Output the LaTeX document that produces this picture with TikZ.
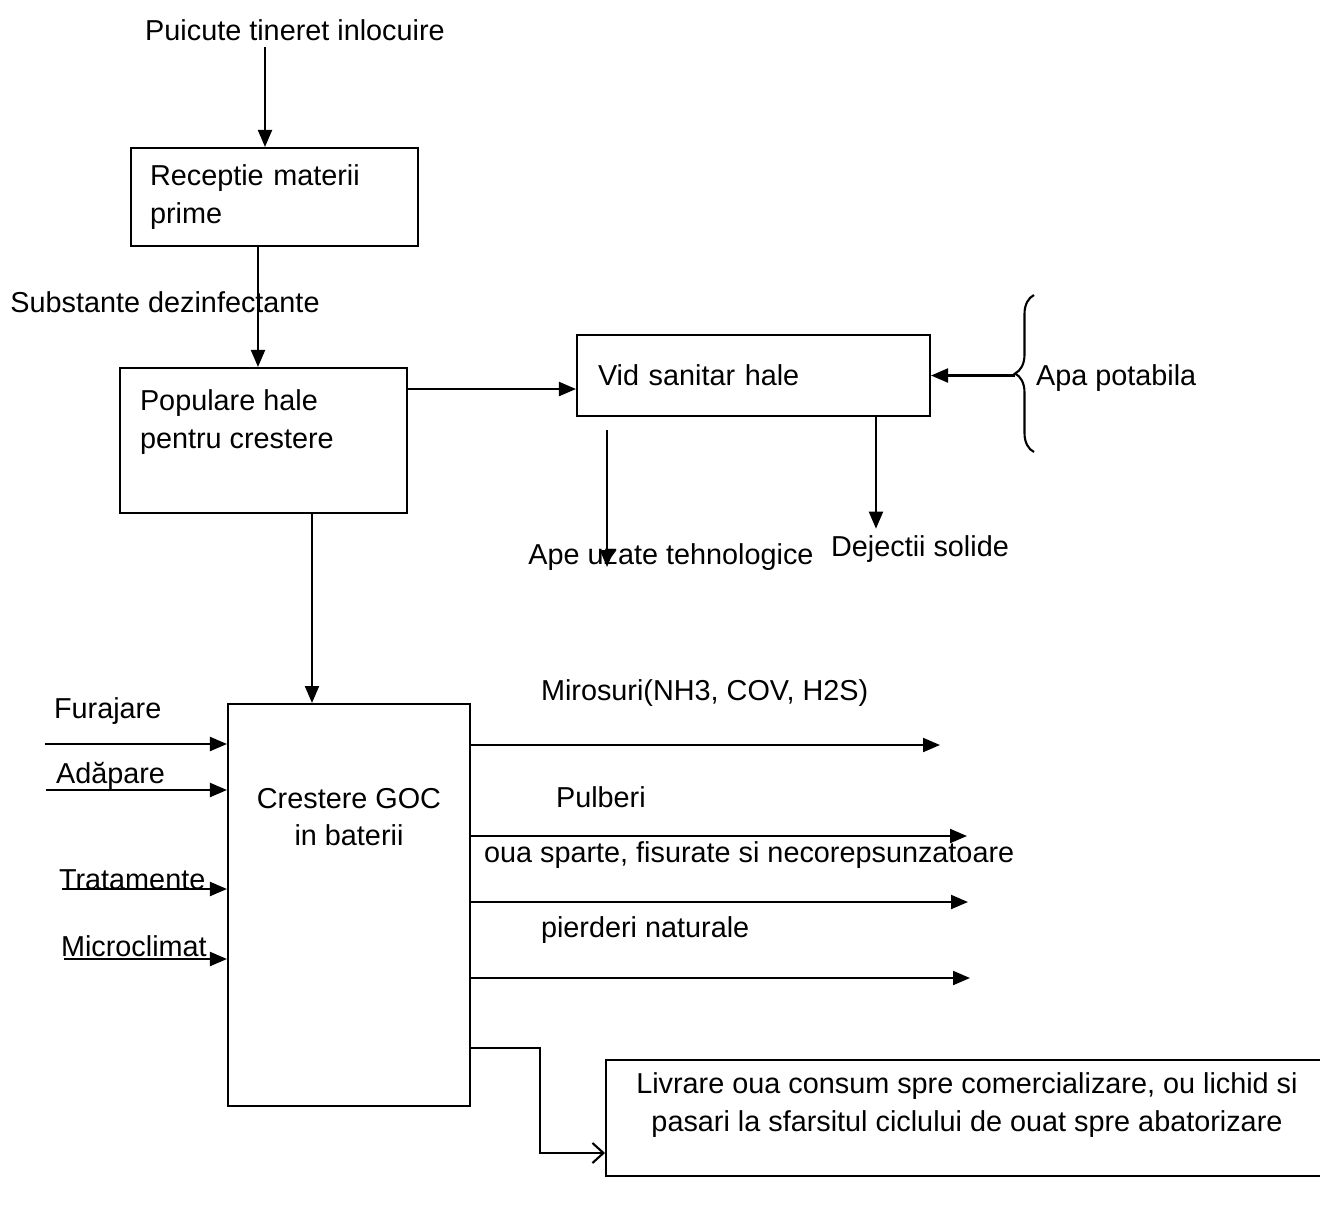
\documentclass[tikz,border=0pt]{standalone}
\usepackage{fontspec}
\setmainfont{Liberation Sans}
\usetikzlibrary{arrows.meta,positioning,decorations.pathreplacing}

\begin{document}
\begin{tikzpicture}[x=0.02cm, y=-0.02cm, line width=1.2pt,
	every node/.style={font=\fontsize{16.4}{21.5}\selectfont},
	box/.style={draw, inner sep=0pt},
	lbl/.style={anchor=west, inner sep=0pt},
	arr/.style={-{Triangle[length=0.34cm, width=0.28cm]}},
	openarr/.style={-{Straight Barb[length=0.22cm, width=0.4cm]}}]

	\clip (0,0) rectangle (1320,1205);

	\node (puicute) at (295,30) {Puicute tineret inlocuire};

	\node[box, minimum width=5.74cm, minimum height=1.96cm, text width=4.98cm, align=left]
	(receptie) at (274.5,197) {Receptie materii\\prime};

	\draw[arr]
	([xshift=-0.6cm]puicute.south)
	--
	([xshift=-0.6cm]puicute.south |- receptie.north);

	\node (substante) at (165,302) {Substante dezinfectante};

	\node[box, minimum width=5.74cm, minimum height=2.9cm] (populare) at (263.5,440.5) {};
	\node[lbl, anchor=north west, align=left] (poptxt)
	at ([xshift=0.4cm, yshift=-0.44cm]populare.north west) {Populare hale\\pentru crestere};

	\draw[arr]
	([xshift=-0.33cm]receptie.south)
	--
	([xshift=-0.33cm]receptie.south |- populare.north);

	\node[box, minimum width=7.06cm, minimum height=1.62cm, text width=6.22cm, align=left]
	(vid) at (753.5,375.5) {Vid sanitar hale};

	\draw[arr]
	([yshift=1.03cm]populare.east)
	--
	([yshift=1.03cm]populare.east -| vid.west);

	% apa potabila
	\draw[decorate, decoration={brace, amplitude=0.38cm}] (1034,452) -- (1034,295);
	\coordinate (apatip) at (1015,375.5);
	\node[lbl] (apa) at (1035,378) {Apa potabila};

	\draw[arr] (apatip) -- (apatip -| vid.east);

	\node (ape) at (671,557) {Ape uzate tehnologice};
	\node (dej) at (920,549) {Dejectii solide};

	\coordinate (apetop) at (607,430);
	\draw[arr] (apetop) -- ([yshift=-0.2cm]apetop |- ape.center);

	\draw[arr]
	([xshift=2.45cm]vid.south)
	--
	([xshift=2.45cm]vid.south |- dej.north);

	\node[box, minimum width=4.84cm, minimum height=8.04cm] (crestere) at (349,905) {};
	\node[align=center, below=1.56cm of crestere.north] (crestxt) {Crestere GOC\\in baterii};

	\draw[arr]
	([xshift=0.97cm]populare.south)
	--
	([xshift=0.97cm]populare.south |- crestere.north);

	% intrari
	\node[lbl] (furajare) at (53,711) {Furajare};
	\node[lbl] (adapare) at (55,776) {Adăpare};
	\node[lbl] (tratamente) at (58,880) {Tratamente};
	\node[lbl] (microclimat) at (60,946) {Microclimat};

	\coordinate (furin) at (45,744);
	\coordinate (adain) at (46,790);
	\coordinate (train) at (62,889);
	\coordinate (micin) at (64,959);

	\draw[arr] (furin) -- (furin -| crestere.west);
	\draw[arr] (adain) -- (adain -| crestere.west);
	\draw[arr] (train) -- (train -| crestere.west);
	\draw[arr] (micin) -- (micin -| crestere.west);

	% iesiri
	\node[lbl] (mirosuri) at (540,693) {Mirosuri(NH3, COV, H2S)};
	\node[lbl] (pulberi) at (555,797) {Pulberi};
	\node[lbl] (oua) at (483,855) {oua sparte, fisurate si necorepsunzatoare};
	\node[lbl] (pierderi) at (540,930) {pierderi naturale};

	\coordinate (miroout) at (940,745);
	\coordinate (pulout) at (967,836);
	\coordinate (ouaout) at (968,902);
	\coordinate (pieout) at (970,978);

	\draw[arr] (miroout -| crestere.east) -- (miroout);
	\draw[arr] (pulout -| crestere.east) -- (pulout);
	\draw[arr] (ouaout -| crestere.east) -- (ouaout);
	\draw[arr] (pieout -| crestere.east) -- (pieout);

	\node[box, minimum width=14.68cm, minimum height=2.32cm] (livrare) at (973,1118) {};
	\node[align=center] (livtxt) at ([xshift=-0.12cm, yshift=0.26cm]livrare.center)
	{Livrare oua consum spre comercializare, ou lichid si\\pasari la sfarsitul ciclului de ouat spre abatorizare};

	\coordinate (bend) at (540,1048);
	\draw[openarr]
	(crestere.east |- bend)
	-- (bend)
	|- ([yshift=-0.7cm]livrare.west);

\end{tikzpicture}
\end{document}
